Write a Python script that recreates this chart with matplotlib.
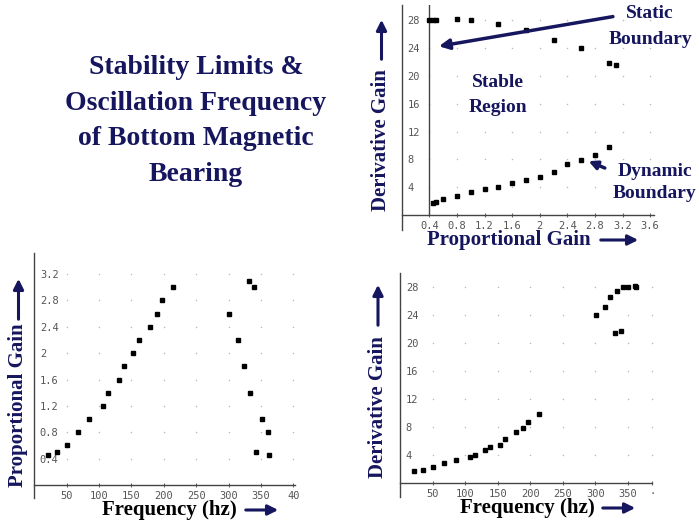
import numpy as np
import matplotlib
matplotlib.use('Agg')
import matplotlib.pyplot as plt

W, H = 699, 523
NAVY = '#16165e'
SERIF = 'Liberation Serif'

# lower ("dynamic") branch: oscillation frequency, proportional gain, derivative gain
freq_dyn = [21.5, 34.5, 50, 68, 85, 106.5, 114.5, 130, 138.7, 153, 161, 178, 189, 197, 214]
kp_dyn   = [0.45, 0.5, 0.6, 0.8, 1.0, 1.2, 1.4, 1.6, 1.8, 2.0, 2.2, 2.4, 2.6, 2.8, 3.0]
kd_dyn   = [1.72, 1.88, 2.25, 2.8, 3.3, 3.7, 4.05, 4.66, 5.1, 5.5, 6.25, 7.3, 7.88, 8.7, 9.8]

# upper ("static") branch
freq_sta = [301, 315, 323, 333, 342, 351, 361, 362, 331, 339]
kp_sta   = [2.6, 2.2, 1.8, 1.4, 0.5, 1.0, 0.8, 0.45, 3.1, 3.0]
kd_sta   = [24.0, 25.2, 26.6, 27.4, 28.0, 28.0, 28.2, 28.0, 21.5, 21.8]
kp_edge  = [0.4]   # extra point at the left edge of the static dash
kd_edge  = [28.0]

kp_ticks  = [0.4, 0.8, 1.2, 1.6, 2.0, 2.4, 2.8, 3.2, 3.6]
kp_labels = ['0.4', '0.8', '1.2', '1.6', '2', '2.4', '2.8', '3.2', '3.6']
kd_ticks  = [4, 8, 12, 16, 20, 24, 28]
fq_ticks  = [50, 100, 150, 200, 250, 300, 350, 400]
fq_labels = ['50', '100', '150', '200', '250', '300', '350', '40']


def rect(l, r, top, bot):
    return [l / W, 1 - bot / H, (r - l) / W, (bot - top) / H]


def fx(x):
    return x / W


def fy(y):
    return 1 - y / H


def base_axes(fig, r, xlim, ylim, xt, xl, yt, yl, below=0.07):
    ax = fig.add_axes(r)
    ax.set_xlim(*xlim)
    ax.set_ylim(*ylim)
    for s in ax.spines.values():
        s.set_visible(False)
    ax.set_facecolor('none')
    ax.axvline(xlim[0], ymin=-below, ymax=1, color='#444444', lw=1, clip_on=False)
    ax.axhline(ylim[0], color='#444444', lw=1, clip_on=False)
    # dotted grid: a faint dot at each tick crossing
    gx, gy = np.meshgrid(xt, yt)
    ax.scatter(gx.ravel(), gy.ravel(), s=1.2, color='#bbbbbb', lw=0, zorder=1, clip_on=False)
    ax.set_xticks(xt)
    ax.set_xticklabels(xl)
    ax.set_yticks(yt)
    ax.set_yticklabels(yl)
    ax.tick_params(axis='x', length=2.5, direction='inout', color='#666666', pad=3,
                   labelsize=7.5, labelcolor='#555555')
    ax.tick_params(axis='y', length=0, pad=-4, labelsize=7.5, labelcolor='#555555')
    for lbl in ax.get_yticklabels():
        lbl.set_ha('left')
    for lbl in ax.get_xticklabels() + ax.get_yticklabels():
        lbl.set_family('DejaVu Sans Mono')
    return ax


def vlabel(fig, text, x, yc, y0, y1, color=NAVY):
    fig.text(fx(x), fy(yc), text, rotation=90, ha='center', va='center',
             family=SERIF, weight='bold', fontsize=15, color=color)
    fig.add_artist(matplotlib.patches.FancyArrowPatch(
        (fx(x), fy(y0)), (fx(x), fy(y1)), transform=fig.transFigure,
        arrowstyle='-|>,head_length=6,head_width=3', color=NAVY, lw=2.2))


def hlabel(fig, text, xc, y, x0, x1, color=NAVY):
    fig.text(fx(xc), fy(y), text, ha='center', va='center',
             family=SERIF, weight='bold', fontsize=15, color=color)
    fig.add_artist(matplotlib.patches.FancyArrowPatch(
        (fx(x0), fy(y)), (fx(x1), fy(y)), transform=fig.transFigure,
        arrowstyle='-|>,head_length=6,head_width=3', color=NAVY, lw=2.2))


fig = plt.figure(figsize=(W / 100, H / 100), dpi=100)
fig.patch.set_facecolor('white')

# title block
fig.text(fx(196), fy(121), 'Stability Limits &\nOscillation Frequency\nof Bottom Magnetic\nBearing',
         ha='center', va='center', family=SERIF, weight='bold', fontsize=20,
         color=NAVY, linespacing=1.55)

ms = 3.2

# top right: derivative vs proportional gain
ax1 = base_axes(fig, rect(401.7, 653.6, 5, 215), (0, 3.65), (0, 30.2),
                kp_ticks, kp_labels, kd_ticks, [str(v) for v in kd_ticks])
ax1.axvline(0.4, color='#444444', lw=1)
ax1.plot(kp_dyn, kd_dyn, 's', color='black', ms=ms, zorder=3)
ax1.plot(kp_sta + kp_edge, kd_sta + kd_edge, 's', color='black', ms=ms, zorder=3)
ax1.text(1.4, 19.0, 'Stable', ha='center', va='center', family=SERIF, weight='bold',
         fontsize=14, color=NAVY)
ax1.text(1.4, 15.4, 'Region', ha='center', va='center', family=SERIF, weight='bold',
         fontsize=14, color=NAVY)
ax1.annotate('', xy=(0.5, 24.2), xytext=(3.1, 28.6),
             arrowprops=dict(arrowstyle='-|>,head_length=0.6,head_width=0.3',
                             color=NAVY, lw=2.5))
ax1.annotate('', xy=(2.67, 7.9), xytext=(2.98, 6.6),
             arrowprops=dict(arrowstyle='-|>,head_length=0.5,head_width=0.25',
                             color=NAVY, lw=2.5))
fig.text(fx(650), fy(14), 'Static', ha='center', va='center', family=SERIF,
         weight='bold', fontsize=14, color=NAVY)
fig.text(fx(650), fy(40), 'Boundary', ha='center', va='center', family=SERIF,
         weight='bold', fontsize=14, color=NAVY)
fig.text(fx(655), fy(171), 'Dynamic', ha='center', va='center', family=SERIF,
         weight='bold', fontsize=14, color=NAVY)
fig.text(fx(654), fy(194), 'Boundary', ha='center', va='center', family=SERIF,
         weight='bold', fontsize=14, color=NAVY)
vlabel(fig, 'Derivative Gain', 381.5, 140, 62, 17)
hlabel(fig, 'Proportional Gain', 509, 240, 598, 641)

# bottom left: proportional gain vs frequency
ax2 = base_axes(fig, rect(34.3, 295, 253, 485), (0, 402.5), (0, 3.52),
                fq_ticks, fq_labels, kp_ticks[:-1], kp_labels[:-1], below=0.055)
ax2.plot(freq_dyn, kp_dyn, 's', color='black', ms=ms, zorder=3)
ax2.plot(freq_sta, kp_sta, 's', color='black', ms=ms, zorder=3)
vlabel(fig, 'Proportional Gain', 18.5, 405, 322, 276)
hlabel(fig, 'Frequency (hz)', 169, 510, 243, 281, color='black')

# bottom right: derivative gain vs frequency
ax3 = base_axes(fig, rect(400.3, 652.3, 273.3, 483), (0, 387.7), (0, 30),
                fq_ticks[:-1] + [387.7], fq_labels[:-1] + ['\u00b7'],
                kd_ticks, [str(v) for v in kd_ticks], below=0.065)
ax3.plot(freq_dyn, kd_dyn, 's', color='black', ms=ms, zorder=3)
ax3.plot(freq_sta, kd_sta, 's', color='black', ms=ms, zorder=3)
vlabel(fig, 'Derivative Gain', 378, 407, 328, 282)
hlabel(fig, 'Frequency (hz)', 527, 508, 600, 638, color='black')

fig.savefig('out.png', dpi=100, facecolor='white')
